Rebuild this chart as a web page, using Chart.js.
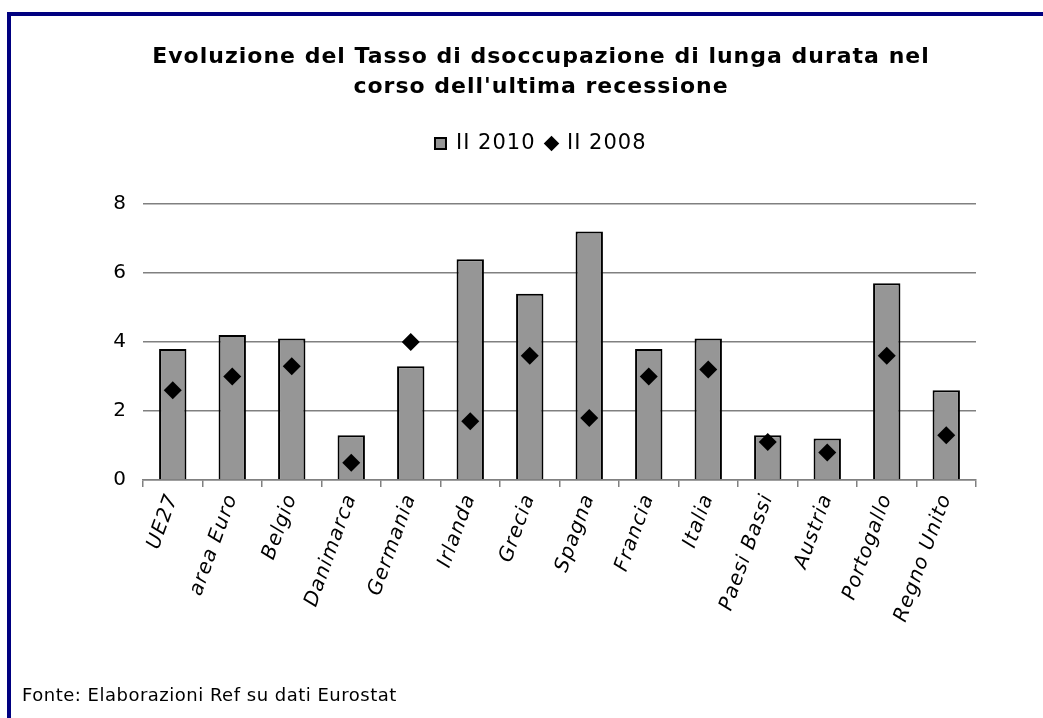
<!DOCTYPE html>
<html lang="it">
<head>
<meta charset="UTF-8">
<title>Tasso di disoccupazione di lunga durata</title>
<style>
  body {
    margin: 0;
    background: #fff;
  }
  .wrap {
    position: relative;
    width: 1043px;
    height: 718px;
    overflow: hidden;
    background: #fff;
  }
  .frame {
    position: absolute;
    left: 7px;
    top: 12px;
    width: 1100px;
    height: 800px;
    border-left: 4px solid #000080;
    border-top: 4px solid #000080;
  }
  #plot {
    position: absolute;
    left: 0;
    top: 0;
  }
  .source {
    position: absolute;
    left: 22px;
    top: 686px;
    font-family: "DejaVu Sans", sans-serif;
    font-size: 18px;
    line-height: 18px;
    letter-spacing: 0.5px;
    color: #000;
  }
</style>
</head>
<body>
<div class="wrap">
  <div class="frame"></div>
  <canvas id="plot" width="1043" height="718"></canvas>
  <div class="source">Fonte: Elaborazioni Ref su dati Eurostat</div>
</div>
<script src="https://cdn.jsdelivr.net/npm/chart.js"></script>
<script>
const titleLines = [
  'Evoluzione del Tasso di dsoccupazione di lunga durata nel',
  "corso dell'ultima recessione"
];
const categories = [
  'UE27', 'area Euro', 'Belgio', 'Danimarca', 'Germania', 'Irlanda', 'Grecia',
  'Spagna', 'Francia', 'Italia', 'Paesi Bassi', 'Austria', 'Portogallo', 'Regno Unito'
];
const ii2010 = [3.8, 4.2, 4.1, 1.3, 3.3, 6.4, 5.4, 7.2, 3.8, 4.1, 1.3, 1.2, 5.7, 2.6];
const ii2008 = [2.6, 3.0, 3.3, 0.5, 4.0, 1.7, 3.6, 1.8, 3.0, 3.2, 1.1, 0.8, 3.6, 1.3];
const yTicks = [0, 2, 4, 6, 8];

const font = 'DejaVu Sans, Verdana, sans-serif';
const grey = '#808080';

// wider letter spacing, like the original Verdana rendering
const spacing = {
  id: 'spacing',
  beforeUpdate(chart) { chart.ctx.letterSpacing = '1px'; },
  beforeDraw(chart) { chart.ctx.letterSpacing = '1px'; }
};

new Chart(document.getElementById('plot'), {
  data: {
    labels: categories,
    datasets: [
      {
        type: 'line',
        label: 'II 2008',
        data: ii2008,
        showLine: false,
        pointStyle: 'rectRot',
        pointRadius: 9,
        pointHoverRadius: 9,
        backgroundColor: '#000',
        borderColor: '#000',
        borderWidth: 0
      },
      {
        type: 'bar',
        label: 'II 2010',
        data: ii2010,
        backgroundColor: '#969696',
        borderColor: '#000',
        borderWidth: 2,
        pointStyle: 'rect',
        categoryPercentage: 1,
        barPercentage: 0.46
      }
    ]
  },
  options: {
    responsive: false,
    animation: false,
    devicePixelRatio: 1,
    layout: {
      padding: { top: 12, right: 67, left: 106, bottom: 0 }
    },
    plugins: {
      tooltip: { enabled: false },
      title: {
        display: true,
        text: titleLines,
        color: '#000',
        font: { family: font, size: 22, weight: 'bold', lineHeight: 30 / 22 },
        padding: { top: 30, bottom: 20 }
      },
      legend: {
        position: 'top',
        labels: {
          usePointStyle: true,
          boxWidth: 10,
          boxHeight: 11,
          color: '#000',
          font: { family: font, size: 21 },
          padding: 11,
          sort: (a, b) => b.datasetIndex - a.datasetIndex
        }
      },
      // empty spacer between the legend and the plot
      subtitle: {
        display: true,
        text: '',
        weight: 500,
        padding: 0,
        font: { size: 40, lineHeight: 1 }
      }
    },
    scales: {
      x: {
        grid: {
          display: true,
          drawOnChartArea: false,
          drawTicks: true,
          tickLength: 7,
          color: grey,
          lineWidth: 1.5
        },
        border: { color: grey, width: 1.5 },
        ticks: {
          color: '#000',
          autoSkip: false,
          minRotation: 70,
          maxRotation: 70,
          padding: 4,
          font: { family: font, size: 20, style: 'italic' }
        },
        afterFit(scale) { scale.height = 238; }
      },
      y: {
        min: 0,
        max: 8,
        afterBuildTicks(scale) { scale.ticks = yTicks.map(v => ({ value: v })); },
        grid: {
          color: grey,
          lineWidth: 1.5,
          drawTicks: false
        },
        border: { display: false },
        ticks: {
          color: '#000',
          padding: 16,
          font: { family: font, size: 20 }
        },
        afterFit(scale) { scale.width = 37; }
      }
    }
  },
  plugins: [spacing]
});
</script>
</body>
</html>
